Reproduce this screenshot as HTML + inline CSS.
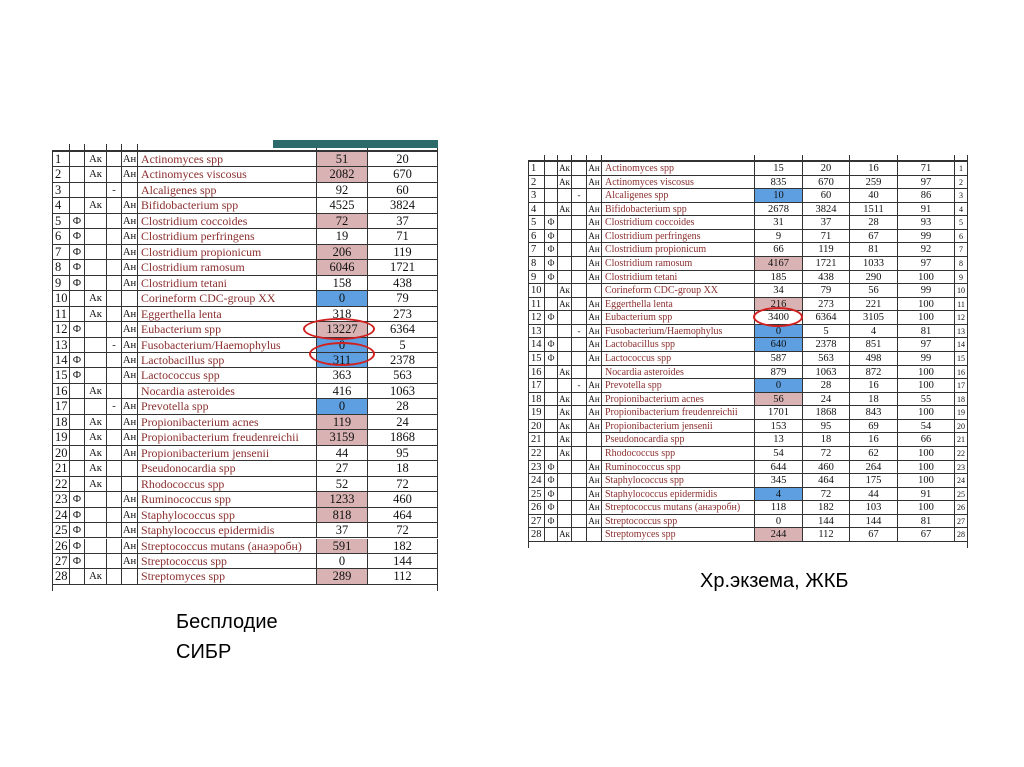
<!DOCTYPE html>
<html><head><meta charset="utf-8"><style>
body{margin:0;width:1024px;height:767px;background:#fff;position:relative;overflow:hidden;font-family:"Liberation Serif",serif}
.c{position:absolute;box-sizing:border-box;border-right:1px solid #333;border-bottom:1px solid #333;white-space:nowrap;overflow:hidden;color:#111;text-align:center}
.n{color:#8b2e2e;text-align:left;padding-left:3px}
.pk{background:#d9b3b3}.bl{background:#5d9fe0}
.cap{position:absolute;font-family:"Liberation Sans",sans-serif;font-size:20px;color:#000;line-height:30px}
.ov{position:absolute;border:2.5px solid #d02020;border-radius:50%;box-sizing:border-box}
</style></head><body>
<div id="t1"></div>
<div id="t2"></div>
<div class="c" style="left:273px;top:140px;width:165px;height:8px;background:#2d6b6b;border:none"></div>
<div class="cap" style="left:176px;top:607px">Бесплодие<br>СИБР</div>
<div class="cap" style="left:700px;top:566px">Хр.экзема, ЖКБ</div>
<div class="ov" style="left:303px;top:318px;width:72px;height:22px"></div>
<div class="ov" style="left:309px;top:342px;width:66px;height:24px"></div>
<div class="ov" style="left:753px;top:307px;width:50px;height:20px"></div>
<script>
const names=["Actinomyces spp","Actinomyces viscosus","Alcaligenes spp","Bifidobacterium spp","Clostridium coccoides","Clostridium perfringens","Clostridium propionicum","Clostridium ramosum","Clostridium tetani","Corineform CDC-group XX","Eggerthella lenta","Eubacterium spp","Fusobacterium/Haemophylus","Lactobacillus spp","Lactococcus spp","Nocardia asteroides","Prevotella spp","Propionibacterium acnes","Propionibacterium freudenreichii","Propionibacterium jensenii","Pseudonocardia spp","Rhodococcus spp","Ruminococcus spp","Staphylococcus spp","Staphylococcus epidermidis","Streptococcus mutans (анаэробн)","Streptococcus spp","Streptomyces spp"];
const flagF=[0,0,0,0,1,1,1,1,1,0,0,1,0,1,1,0,0,0,0,0,0,0,1,1,1,1,1,0];
const flagA=[1,1,0,1,0,0,0,0,0,1,1,0,0,0,0,1,0,1,1,1,1,1,0,0,0,0,0,1];
const flagD=[0,0,1,0,0,0,0,0,0,0,0,0,1,0,0,0,1,0,0,0,0,0,0,0,0,0,0,0];
const flagN=[1,1,0,1,1,1,1,1,1,0,1,1,1,1,1,0,1,1,1,1,0,0,1,1,1,1,1,0];
const L1=["51","2082","92","4525","72","19","206","6046","158","0","318","13227","0","311","363","416","0","119","3159","44","27","52","1233","818","37","591","0","289"];
const L2=["20","670","60","3824","37","71","119","1721","438","79","273","6364","5","2378","563","1063","28","24","1868","95","18","72","460","464","72","182","144","112"];
const Lhl="p p . . p . p p . b . p b b . . b p p . . . p p . p . p".split(" ");
const R1=["15","835","10","2678","31","9","66","4167","185","34","216","3400","0","640","587","879","0","56","1701","153","13","54","644","345","4","118","0","244"];
const R2=L2;
const R3=["16","259","40","1511","28","67","81","1033","290","56","221","3105","4","851","498","872","16","18","843","69","16","62","264","175","44","103","144","67"];
const R4=["71","97","86","91","93","99","92","97","100","99","100","100","81","97","99","100","100","55","100","54","66","100","100","100","91","100","81","67"];
const Rhl=". . b . . . . p . . p . b b . . b p . . . . . . b . . p".split(" ");
function build(host,cols,top,rh,fs,getRow,hl,hlCol,prefix){
  const h=document.getElementById(host);
  for(let c=0;c<cols.length-1;c++){
    const d=document.createElement('div');d.className='c';
    
    
    d.style.cssText=`left:${cols[c]}px;top:${top-rh*0.5}px;width:${cols[c+1]-cols[c]}px;height:${rh*0.5}px;border-bottom:2px solid #333`;
    h.appendChild(d);
  }
  for(let r=0;r<28;r++){
    const vals=getRow(r);
    for(let c=0;c<cols.length-1;c++){
      const d=document.createElement('div');
      d.className='c'+(c==5?' n':'')+(c==hlCol&&hl[r]=='p'?' pk':'')+(c==hlCol&&hl[r]=='b'?' bl':'');
      
      
      let fz=fs; if(c>=1&&c<=4) fz=fs*0.85; if(c==5) fz=fs*0.95;
      d.style.cssText=`left:${cols[c]}px;top:${top+r*rh}px;width:${cols[c+1]-cols[c]}px;height:${rh}px;line-height:${rh}px;font-size:${fz}px;`+(c==0?'border-left:1px solid #333;text-align:left;padding-left:2px;':'')+(c==cols.length-2&&prefix=='right'?'font-size:8px;':'');
      d.textContent=vals[c]||'';
      h.appendChild(d);
    }
  }
  const f=document.createElement('div');f.className='c';
  
  
  f.style.cssText=`left:${cols[0]}px;top:${top+28*rh}px;width:${cols[cols.length-1]-cols[0]}px;height:6px;border-bottom:none;border-left:1px solid #333`;
  h.appendChild(f);
}
function base(r){return [String(r+1),flagF[r]?'Ф':'',flagA[r]?'Ак':'',flagD[r]?'-':'',flagN[r]?'Ан':'',names[r]];}
build('t1',[52,70,85,107,122,138,317,368,438],152,15.46,12.5,r=>base(r).concat([L1[r],L2[r]]),Lhl,6,'left');
build('t2',[528,545,558,572,587,602,755,803,850,898,955,968],162,13.57,10.5,r=>base(r).concat([R1[r],R2[r],R3[r],R4[r],String(r+1)]),Rhl,6,'right');
</script>
</body></html>
